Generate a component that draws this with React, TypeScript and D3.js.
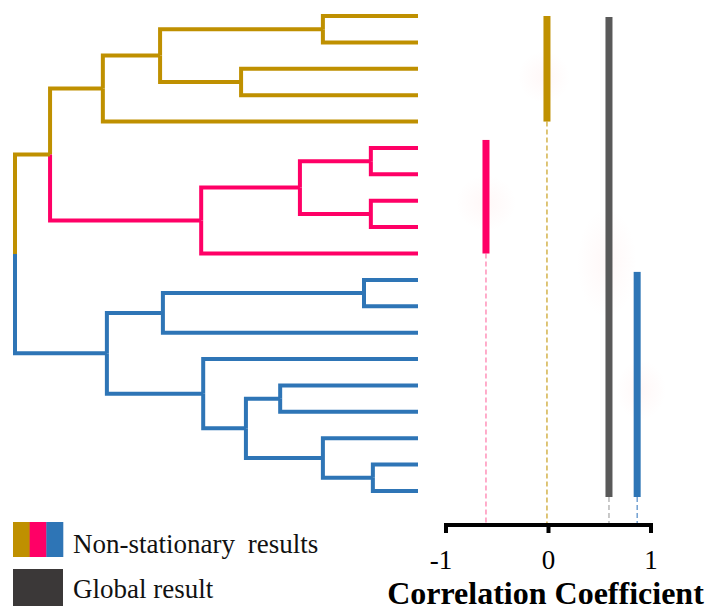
import React from "react";
import * as d3 from "d3";

// ---------- data ----------
const leafIds = d3.range(19).map((i) => `S${i + 1}`);
const leafCluster = [0, 0, 0, 0, 0, 1, 1, 1, 1, 1, 2, 2, 2, 2, 2, 2, 2, 2, 2];
const clusterNames = ["Cluster A", "Cluster B", "Cluster C"];
const clusterColors = ["#BF9000", "#FF0066", "#2E75B6"];
const dashColors = ["#C9A020", "#FF77A8", "#4F88C6"];
// linkage: [childA, childB, distance]; ids < 19 are leaves, node ids start at 19
const linkage: [number, number, number][] = [
  [0, 1, 0.236],
  [2, 3, 0.439],
  [19, 20, 0.64],
  [21, 4, 0.782],
  [5, 6, 0.117],
  [7, 8, 0.117],
  [23, 24, 0.293],
  [25, 9, 0.538],
  [22, 26, 0.913],
  [10, 11, 0.134],
  [28, 12, 0.633],
  [17, 18, 0.112],
  [16, 30, 0.236],
  [14, 15, 0.342],
  [32, 31, 0.427],
  [13, 33, 0.533],
  [29, 34, 0.772],
  [27, 35, 1.0],
];
const clusterCorr = [-0.015, -0.61, 0.865];
const globalCorr = 0.59;
const axisTicks = [-1, 0, 1];
const legendLabels = ["Non-stationary results", "Global result"];
const axisTitle = "Correlation Coefficient";
const globalColor = "#595959";
const legendGlobalColor = "#3B3838";

// ---------- layout ----------
const W = 706;
const H = 610;
const FONT = "'Liberation Serif', 'Times New Roman', serif";

export default function App() {
  const nLeaves = leafIds.length;
  const yLeaf = d3.scalePoint<string>().domain(leafIds).range([16, 491]);
  const xDist = d3.scaleLinear().domain([0, 1]).range([418, 15]);
  const xCorr = d3.scaleLinear().domain([-1, 1]).range([446, 651]);
  const axisY = 525;

  type Node = { x: number; y: number; leaves: number[] };
  const nodes: Node[] = [];
  leafIds.forEach((id, i) => nodes.push({ x: xDist(0), y: yLeaf(id)!, leaves: [i] }));
  linkage.forEach(([a, b, h]) => {
    const na = nodes[a];
    const nb = nodes[b];
    nodes.push({
      x: xDist(h),
      y: (na.y + nb.y) / 2,
      leaves: [...na.leaves, ...nb.leaves],
    });
  });
  const nodeColor = (n: Node) => {
    const cs = new Set(n.leaves.map((l) => leafCluster[l]));
    if (cs.size === 1) return clusterColors[[...cs][0]];
    return clusterColors[0];
  };

  const segs: { d: string; color: string }[] = [];
  linkage.forEach(([a, b], k) => {
    const parent = nodes[nLeaves + k];
    [a, b].forEach((c) => {
      const ch = nodes[c];
      segs.push({
        d: `M${ch.x},${ch.y}H${parent.x}V${parent.y}`,
        color: nodeColor(ch),
      });
    });
  });

  const bars = clusterColors.map((col, ci) => {
    const ls = leafCluster.map((c, i) => (c === ci ? i : -1)).filter((i) => i >= 0);
    return {
      name: clusterNames[ci],
      color: col,
      dash: dashColors[ci],
      value: clusterCorr[ci],
      y0: yLeaf(leafIds[ls[0]])! - (ci === 0 ? 0 : 8),
      y1: yLeaf(leafIds[ls[ls.length - 1]])! + (ci === 2 ? 6 : 0),
    };
  });
  const allBars = [
    ...bars,
    {
      name: "Global",
      color: globalColor,
      dash: "#A6A6A6",
      value: globalCorr,
      y0: yLeaf(leafIds[0])! + 1,
      y1: yLeaf(leafIds[nLeaves - 1])! + 6,
    },
  ];
  const barW = 7;

  const glows = [
    { cx: xCorr(clusterCorr[0]) - 3, cy: 77, rx: 26, ry: 26 },
    { cx: xCorr(clusterCorr[1]), cy: 203, rx: 30, ry: 28 },
    { cx: xCorr(globalCorr) - 2, cy: 263, rx: 30, ry: 55 },
    { cx: xCorr(clusterCorr[2]) + 4, cy: 390, rx: 25, ry: 30 },
  ];

  return (
    <svg
      width={W}
      height={H}
      viewBox={`0 0 ${W} ${H}`}
      style={{ position: "absolute", left: 0, top: 0, background: "#fff" }}
    >
      <defs>
        <radialGradient id="glow">
          <stop offset="0%" stopColor="#FF8080" stopOpacity={0.06} />
          <stop offset="100%" stopColor="#FF8080" stopOpacity={0} />
        </radialGradient>
      </defs>
      <rect width={W} height={H} fill="#fff" />

      <g fill="none" strokeWidth={4} strokeLinejoin="miter" strokeLinecap="butt">
        {segs.map((s, i) => (
          <path key={i} d={s.d} stroke={s.color} />
        ))}
      </g>

      {glows.map((g, i) => (
        <ellipse key={i} cx={g.cx} cy={g.cy} rx={g.rx} ry={g.ry} fill="url(#glow)" />
      ))}

      {allBars.map((b, i) => (
        <line
          key={"d" + i}
          x1={xCorr(b.value)}
          x2={xCorr(b.value)}
          y1={b.y1}
          y2={axisY}
          stroke={b.dash}
          strokeWidth={1.2}
          strokeDasharray="5,3"
        />
      ))}

      {allBars.map((b, i) => (
        <rect
          key={"b" + i}
          x={xCorr(b.value) - barW / 2}
          y={b.y0}
          width={barW}
          height={b.y1 - b.y0}
          fill={b.color}
        />
      ))}

      <path
        d={`M${xCorr(-1)},${axisY + 8}V${axisY}H${xCorr(1)}V${axisY + 8}`}
        fill="none"
        stroke="#000"
        strokeWidth={4}
      />
      {axisTicks.map((t) => (
        <g key={t}>
          <line x1={xCorr(t)} x2={xCorr(t)} y1={axisY} y2={axisY + 8} stroke="#000" strokeWidth={4} />
          <text
            x={xCorr(t) - (t < 0 ? 5 : 0)}
            y={569}
            textAnchor="middle"
            fontFamily={FONT}
            fontSize={27}
            fill="#000"
          >
            {t}
          </text>
        </g>
      ))}
      <text
        x={545.5}
        y={604}
        textAnchor="middle"
        fontFamily={FONT}
        fontSize={32}
        fontWeight="bold"
        fill="#000"
      >
        {axisTitle}
      </text>

      {clusterColors.map((c, i) => (
        <rect key={"l" + i} x={13 + (i * 50) / 3} y={522} width={50 / 3 + 0.3} height={35} fill={c} />
      ))}
      <rect x={13} y={569} width={50} height={37} fill={legendGlobalColor} />
      <text x={73} y={553} fontFamily={FONT} fontSize={27} fill="#111" style={{ wordSpacing: "6px" }}>
        {legendLabels[0]}
      </text>
      <text x={73} y={598} fontFamily={FONT} fontSize={27} fill="#111">
        {legendLabels[1]}
      </text>
    </svg>
  );
}
